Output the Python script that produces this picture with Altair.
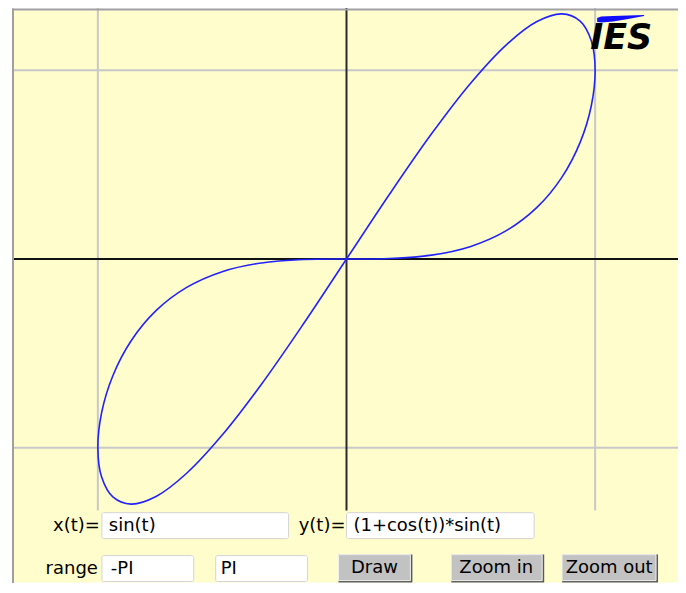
import altair as alt
import pandas as pd

# ---- data: parametric curve points (t from -PI to PI) ----
curve_x = [0.0, -0.17365, -0.34202, -0.5, -0.64279, -0.76604, -0.86603, -0.93969, -0.98481, -1.0,
           -0.98481, -0.93969, -0.86603, -0.76604, -0.64279, -0.5, -0.34202, -0.17365,
           0.0, 0.17365, 0.34202, 0.5, 0.64279, 0.76604, 0.86603, 0.93969, 0.98481, 1.0,
           0.98481, 0.93969, 0.86603, 0.76604, 0.64279, 0.5, 0.34202, 0.17365, 0.0]
curve_y = [0.0, -0.00264, -0.02063, -0.06699, -0.15039, -0.27364, -0.43301, -0.61830, -0.81380, -1.0,
           -1.15582, -1.26108, -1.29904, -1.25844, -1.13520, -0.93301, -0.66341, -0.34466,
           0.0, 0.34466, 0.66341, 0.93301, 1.13520, 1.25844, 1.29904, 1.26108, 1.15582, 1.0,
           0.81380, 0.61830, 0.43301, 0.27364, 0.15039, 0.06699, 0.02063, 0.00264, 0.0]

grid_values = [-1, 1]
axis_values = [0]

input_labels = ["x(t)=", "y(t)=", "range"]
input_texts = ["sin(t)", "(1+cos(t))*sin(t)", "-PI", "PI"]
button_labels = ["Draw", "Zoom in", "Zoom out"]
logo_text = "IES"

curve = pd.DataFrame({"i": range(len(curve_x)), "x": curve_x, "y": curve_y})

XDOM = [-1.3373, 1.3333]
YDOM = [-1.7147, 1.3175]
W, H = 665, 573

xs = alt.Scale(domain=XDOM, nice=False, zero=False)
ys = alt.Scale(domain=YDOM, nice=False, zero=False)

FONT = "DejaVu Sans"
TXT = "#000000"

# grid lines
hgrid = alt.Chart(pd.DataFrame({"y": grid_values})).mark_rule(color="#c8c8c8", strokeWidth=2).encode(
    y=alt.Y("y:Q", scale=ys, axis=None))
vgrid = alt.Chart(pd.DataFrame({"x": grid_values, "y1": [4 / 3] * 2, "y2": [-4 / 3] * 2})).mark_rule(
    color="#c8c8c8", strokeWidth=2).encode(
    x=alt.X("x:Q", scale=xs, axis=None), y=alt.Y("y1:Q", scale=ys, axis=None), y2="y2:Q")

# axes
haxis = alt.Chart(pd.DataFrame({"y": axis_values})).mark_rule(color="#111111", strokeWidth=2).encode(
    y=alt.Y("y:Q", scale=ys, axis=None))
vaxis = alt.Chart(pd.DataFrame({"x": axis_values, "y1": [4 / 3], "y2": [-4 / 3]})).mark_rule(
    color="#2a2a2a", strokeWidth=2).encode(
    x=alt.X("x:Q", scale=xs, axis=None), y=alt.Y("y1:Q", scale=ys, axis=None), y2="y2:Q")

line = alt.Chart(curve).mark_line(color="#2222ff", strokeWidth=1.6, interpolate="catmull-rom").encode(
    x=alt.X("x:Q", scale=xs, axis=None), y=alt.Y("y:Q", scale=ys, axis=None), order="i:Q")

# frame of the applet
frame_left = alt.Chart(pd.DataFrame({"a": [0]})).mark_rule(color="#a0a0a0", strokeWidth=2).encode(
    x=alt.value(-1), y=alt.value(-2), y2=alt.value(580))
frame_top = alt.Chart(pd.DataFrame({"a": [0]})).mark_rule(color="#a0a0a0", strokeWidth=2).encode(
    x=alt.value(-2), x2=alt.value(667), y=alt.value(-1))
frame_bottom = alt.Chart(pd.DataFrame({"a": [0]})).mark_rule(color="#d8d8d8", strokeWidth=1).encode(
    x=alt.value(-2), x2=alt.value(670), y=alt.value(580))

# logo
swoosh = alt.Chart(pd.DataFrame({"px": [584, 588, 600, 615, 631],
                                 "top": [7.5, 6, 5.5, 5, 4.5],
                                 "bot": [11.5, 12, 11, 8.5, 5.5]})).mark_area(color="#1010ff").encode(
    x=alt.X("px:Q", scale=None, axis=None), y=alt.Y("top:Q", scale=None, axis=None), y2="bot:Q")
logo = alt.Chart(pd.DataFrame({"t": [logo_text]})).mark_text(
    font=FONT, fontSize=35, fontWeight="bold", fontStyle="italic", align="left", baseline="alphabetic",
    color="#000000").encode(x=alt.value(577), y=alt.value(39), text="t:N")

# input boxes
boxes = pd.DataFrame({"x0": [88, 333, 88, 202], "x1": [275, 521, 180, 294],
                      "y0": [503, 503, 546, 546], "y1": [529, 529, 572, 572]})
box_layer = alt.Chart(boxes).mark_rect(fill="white", stroke="#d4d4d4", strokeWidth=1, cornerRadius=2).encode(
    x=alt.X("x0:Q", scale=None, axis=None), x2="x1:Q",
    y=alt.Y("y0:Q", scale=None, axis=None), y2="y1:Q")

buttons = pd.DataFrame({"x0": [325, 438, 549], "x1": [399, 531, 645], "y0": [545] * 3, "y1": [573] * 3})
btn_shadow = alt.Chart(buttons).mark_rect(fill="#5a5a5a").encode(
    x=alt.X("x0:Q", scale=None, axis=None), x2="x1:Q",
    y=alt.Y("y0:Q", scale=None, axis=None), y2="y1:Q")
btn_face = alt.Chart(buttons).mark_rect(fill="#c2c2c2", stroke="#f0f0f0", strokeWidth=1).encode(
    x=alt.X("x0:Q", scale=None, axis=None), x2=alt.X2("x1:Q"),
    y=alt.Y("y0:Q", scale=None, axis=None), y2=alt.Y2("y1:Q")).transform_calculate(
    x1="datum.x1 - 2", y1="datum.y1 - 2")

labels = pd.DataFrame({"t": input_labels, "px": [86, 332, 84], "py": [516, 516, 559]})
label_layer = alt.Chart(labels).mark_text(font=FONT, fontSize=18, align="right", baseline="middle", color=TXT).encode(
    x=alt.X("px:Q", scale=None, axis=None), y=alt.Y("py:Q", scale=None, axis=None), text="t:N")

texts = pd.DataFrame({"t": input_texts, "px": [95, 340, 97, 207], "py": [516, 516, 559, 559]})
text_layer = alt.Chart(texts).mark_text(font=FONT, fontSize=18, align="left", baseline="middle", color=TXT).encode(
    x=alt.X("px:Q", scale=None, axis=None), y=alt.Y("py:Q", scale=None, axis=None), text="t:N")

btxt = pd.DataFrame({"t": button_labels, "px": [361, 483, 596], "py": [558, 558, 558]})
btn_text = alt.Chart(btxt).mark_text(font=FONT, fontSize=18, align="center", baseline="middle", color=TXT).encode(
    x=alt.X("px:Q", scale=None, axis=None), y=alt.Y("py:Q", scale=None, axis=None), text="t:N")

chart = alt.layer(
    hgrid, vgrid, haxis, vaxis, line, swoosh, logo,
    box_layer, btn_shadow, btn_face, label_layer, text_layer, btn_text,
    frame_left, frame_top, frame_bottom
).properties(
    width=W, height=H,
    autosize=alt.AutoSizeParams(type="none"),
    padding={"left": 6, "top": 2, "right": 0, "bottom": 0},
    background="white",
).configure_view(fill="#FFFDCC", stroke=None)

chart.save("out.html", embed_options={"renderer": "svg", "actions": False})
